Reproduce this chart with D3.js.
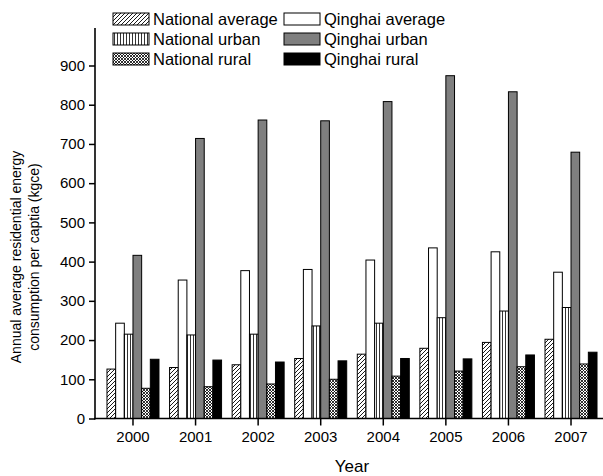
<!DOCTYPE html>
<html>
<head>
<meta charset="utf-8">
<script src="https://cdn.jsdelivr.net/npm/d3@7"></script>
<style>
  body { margin: 0; background: #fff; }
  svg { font-family: "Liberation Sans", Arial, sans-serif; }
</style>
</head>
<body>
<svg id="chart" width="603" height="476"></svg>
<script>
"use strict"

const years = ["2000", "2001", "2002", "2003", "2004", "2005", "2006", "2007"]
const seriesNames = ["National average", "Qinghai average", "National urban", "Qinghai urban", "National rural", "Qinghai rural"]
const nationalAverage = [126, 130, 137, 153, 164, 179, 194, 202]
const qinghaiAverage = [243, 353, 377, 380, 404, 435, 425, 373]
const nationalUrban = [215, 213, 215, 236, 243, 257, 274, 283]
const qinghaiUrban = [416, 714, 761, 759, 808, 874, 833, 679]
const nationalRural = [77, 81, 88, 100, 108, 121, 132, 139]
const qinghaiRural = [151, 149, 144, 147, 153, 152, 162, 169]
const yTicks = [0, 100, 200, 300, 400, 500, 600, 700, 800, 900]

const seriesValues = [nationalAverage, qinghaiAverage, nationalUrban, qinghaiUrban, nationalRural, qinghaiRural]
const fills = ["url(#hatch)", "#ffffff", "url(#vlines)", "#7f7f7f", "url(#cross)", "#000000"]

const svg = d3.select("#chart")
const defs = svg.append("defs")

// diagonal hatch
const hatch = defs.append("pattern").attr("id", "hatch")
    .attr("patternUnits", "userSpaceOnUse").attr("width", 4).attr("height", 4)
hatch.append("rect").attr("width", 4).attr("height", 4).attr("fill", "#fff")
hatch.append("path").attr("d", "M-1,1 l2,-2 M0,4 l4,-4 M3,5 l2,-2")
    .attr("stroke", "#000").attr("stroke-width", 0.9)

// vertical lines
const vl = defs.append("pattern").attr("id", "vlines")
    .attr("patternUnits", "userSpaceOnUse").attr("width", 3).attr("height", 3)
vl.append("rect").attr("width", 3).attr("height", 3).attr("fill", "#fff")
vl.append("path").attr("d", "M1.5,0 v3").attr("stroke", "#000").attr("stroke-width", 0.8)

// cross hatch
const cr = defs.append("pattern").attr("id", "cross")
    .attr("patternUnits", "userSpaceOnUse").attr("width", 3).attr("height", 3)
cr.append("rect").attr("width", 3).attr("height", 3).attr("fill", "#fff")
cr.append("path").attr("d", "M0,0 L3,3 M3,0 L0,3")
    .attr("stroke", "#000").attr("stroke-width", 0.8)

const x = d3.scaleBand().domain(years).range([101.7, 602.3]).padding(0)
const y = d3.scaleLinear().domain([0, 900]).range([418.5, 65.5])
const groupW = 52
const barW = groupW / seriesNames.length

// bars
seriesValues.forEach((vals, s) => {
    svg.append("g").selectAll("rect")
        .data(vals)
        .enter()
        .append("rect")
        .attr("x", (d, i) => x(years[i]) + x.bandwidth() / 2 - groupW / 2 + s * barW)
        .attr("y", d => y(d))
        .attr("width", barW)
        .attr("height", d => y(0) - y(d))
        .attr("fill", fills[s])
        .attr("stroke", "#000")
        .attr("stroke-width", 1)
})

// y axis
const yAxis = svg.append("g")
    .attr("transform", "translate(95,0)")
    .call(d3.axisLeft(y).tickValues(yTicks).tickSize(6).tickPadding(4))
yAxis.select(".domain").remove()
yAxis.selectAll("line").attr("stroke-width", 1.5)
yAxis.selectAll("text").style("font-size", "15px").attr("fill", "#000")
svg.append("line").attr("x1", 95).attr("x2", 95).attr("y1", 28).attr("y2", 419.5)
    .attr("stroke", "#000").attr("stroke-width", 1.6)

// x axis
const xAxis = svg.append("g")
    .attr("transform", "translate(0,418.5)")
    .call(d3.axisBottom(x).tickSize(7).tickPadding(6))
xAxis.select(".domain").remove()
xAxis.selectAll("line").attr("stroke-width", 1.5)
xAxis.selectAll("text").style("font-size", "15px").attr("fill", "#000")
svg.append("line").attr("x1", 94).attr("x2", 603).attr("y1", 418.5).attr("y2", 418.5)
    .attr("stroke", "#000").attr("stroke-width", 1.6)

// titles
svg.append("text")
    .attr("x", 352).attr("y", 472)
    .attr("text-anchor", "middle")
    .style("font-size", "17px")
    .text("Year")

const yTitle = svg.append("text")
    .attr("transform", "translate(21,257) rotate(-90)")
    .attr("text-anchor", "middle")
    .style("font-size", "14px")
yTitle.append("tspan").attr("x", 0).attr("dy", 0).text("Annual average residential energy")
yTitle.append("tspan").attr("x", 0).attr("dy", "1.25em").text("consumption per captia (kgce)")

// legend
const legendPos = [[113, 13], [284, 13], [113, 33], [284, 33], [113, 53], [284, 53]]
seriesNames.forEach((name, s) => {
    const p = legendPos[s]
    const g = svg.append("g").attr("transform", "translate(" + p[0] + "," + p[1] + ")")
    g.append("rect").attr("width", 36).attr("height", 12)
        .attr("fill", fills[s]).attr("stroke", "#000").attr("stroke-width", 1)
    g.append("text").attr("x", 40).attr("y", 12)
        .style("font-size", "16.5px")
        .text(name)
})
</script>
</body>
</html>
